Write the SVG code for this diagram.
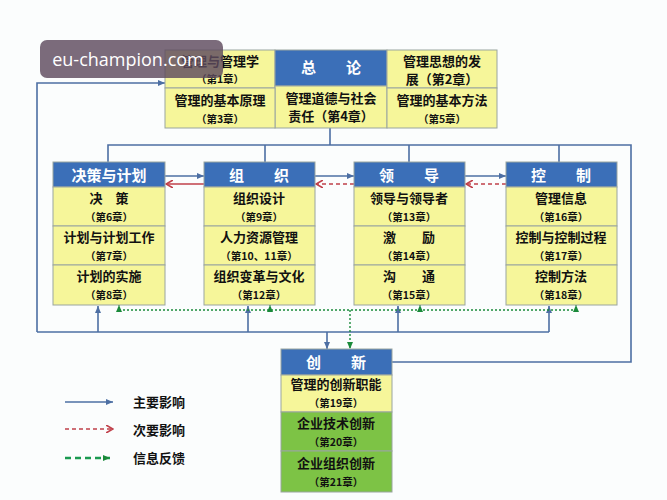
<svg xmlns="http://www.w3.org/2000/svg" width="667" height="500" viewBox="0 0 667 500">
<defs>
<style>
text{font-family:"Noto Sans CJK SC","Liberation Sans",sans-serif;text-anchor:middle;font-weight:bold}
.y{fill:#f6f69a;stroke:#9aa5a0;stroke-width:1}
.g{fill:#7dc345;stroke:#9aa5a0;stroke-width:1}
.h{fill:#3b6fb8;stroke:#9aa5a0;stroke-width:1}
.ht{fill:#fff;font-size:15px}
.t{fill:#111;font-size:13px}
.s{fill:#111;font-size:10.5px}
.b{stroke:#4d6fa3;stroke-width:1.6;fill:none}
.r{stroke:#c0404a;stroke-width:1.6;fill:none}
.rd{stroke:#c0404a;stroke-width:1.6;fill:none;stroke-dasharray:4 3}
.gd{stroke:#1a8a3a;stroke-width:1.4;fill:none;stroke-dasharray:2 2}
.lt{fill:#111;font-size:13px;text-anchor:start}
</style>
<marker id="ab" markerWidth="8" markerHeight="8" refX="7" refY="4" orient="auto" markerUnits="userSpaceOnUse"><path d="M0,1 L7,4 L0,7z" fill="#4d6fa3"/></marker>
<marker id="ar" markerWidth="8" markerHeight="8" refX="7" refY="4" orient="auto" markerUnits="userSpaceOnUse"><path d="M0,0 L7,4 L0,8" fill="none" stroke="#c0404a" stroke-width="1.6"/></marker>
<marker id="ag" markerWidth="8" markerHeight="8" refX="7" refY="4" orient="auto" markerUnits="userSpaceOnUse"><path d="M0,1 L7,4 L0,7z" fill="#1a8a3a"/></marker>
</defs>
<rect width="667" height="500" fill="#fbfdfd"/>
<g id="connectors">
<path class="b" d="M330,128 V145 M108,162 V145 H631 V362 H392 M265,145 V162 M409,145 V162 M559,145 V162"/>
<path class="b" d="M37,332 V83 H165" marker-end="url(#ab)"/>
<path class="b" d="M37,332 H549"/>
<path class="b" d="M98,332 V306" marker-end="url(#ab)"/>
<path class="b" d="M248,332 V306" marker-end="url(#ab)"/>
<path class="b" d="M398,332 V306" marker-end="url(#ab)"/>
<path class="b" d="M549,332 V306" marker-end="url(#ab)"/>
<path class="b" d="M327,332 V349" marker-end="url(#ab)"/>
<path class="gd" d="M119,310 H576"/>
<path class="gd" d="M119,310 V305" marker-end="url(#ag)"/>
<path class="gd" d="M270,310 V305" marker-end="url(#ag)"/>
<path class="gd" d="M420,310 V305" marker-end="url(#ag)"/>
<path class="gd" d="M576,310 V305" marker-end="url(#ag)"/>
<path class="gd" d="M350,310 V349" marker-end="url(#ag)"/>
<path class="b" d="M165,176 H204" marker-end="url(#ab)"/>
<path class="r" d="M204,184 H166" marker-end="url(#ar)"/>
<path class="b" d="M315,176 H354" marker-end="url(#ab)"/>
<path class="rd" d="M354,184 H316" marker-end="url(#ar)"/>
<path class="b" d="M465,176 H506" marker-end="url(#ab)"/>
<path class="rd" d="M506,184 H466" marker-end="url(#ar)"/>
</g>
<g id="top">
<rect class="y" x="165" y="50" width="110" height="38"/>
<rect class="h" x="275" y="50" width="112" height="36"/>
<rect class="y" x="275" y="86" width="112" height="42"/>
<rect class="y" x="387" y="50" width="110" height="38"/>
<rect class="y" x="165" y="88" width="110" height="40"/>
<rect class="y" x="387" y="88" width="110" height="40"/>
<text class="t" x="220" y="66">管理与管理学</text><text class="s" x="220" y="83">（第1章）</text>
<text class="ht" x="331" y="73">总　　论</text>
<text class="t" x="442" y="66">管理思想的发</text><text class="t" x="442" y="84">展（第2章）</text>
<text class="t" x="220" y="105">管理的基本原理</text><text class="s" x="220" y="123">（第3章）</text>
<text class="t" x="331" y="103">管理道德与社会</text><text class="t" x="331" y="121">责任（第4章）</text>
<text class="t" x="442" y="105">管理的基本方法</text><text class="s" x="442" y="123">（第5章）</text>
</g>
<g id="c1">
<rect class="h" x="53" y="162" width="112" height="25"/>
<rect class="y" x="53" y="187" width="112" height="39"/><rect class="y" x="53" y="226" width="112" height="39"/><rect class="y" x="53" y="265" width="112" height="40"/>
<text class="ht" x="109" y="181">决策与计划</text>
<text class="t" x="109" y="203">决　策</text><text class="s" x="109" y="221">（第6章）</text>
<text class="t" x="109" y="242">计划与计划工作</text><text class="s" x="109" y="260">（第7章）</text>
<text class="t" x="109" y="281">计划的实施</text><text class="s" x="109" y="299">（第8章）</text>
</g>
<g id="c2">
<rect class="h" x="204" y="162" width="111" height="25"/>
<rect class="y" x="204" y="187" width="111" height="39"/><rect class="y" x="204" y="226" width="111" height="39"/><rect class="y" x="204" y="265" width="111" height="40"/>
<text class="ht" x="259" y="181">组　　织</text>
<text class="t" x="259" y="203">组织设计</text><text class="s" x="259" y="221">（第9章）</text>
<text class="t" x="259" y="242">人力资源管理</text><text class="s" x="259" y="260">（第10、11章）</text>
<text class="t" x="259" y="281">组织变革与文化</text><text class="s" x="259" y="299">（第12章）</text>
</g>
<g id="c3">
<rect class="h" x="354" y="162" width="111" height="25"/>
<rect class="y" x="354" y="187" width="111" height="39"/><rect class="y" x="354" y="226" width="111" height="39"/><rect class="y" x="354" y="265" width="111" height="40"/>
<text class="ht" x="409" y="181">领　　导</text>
<text class="t" x="409" y="203">领导与领导者</text><text class="s" x="409" y="221">（第13章）</text>
<text class="t" x="409" y="242">激　　励</text><text class="s" x="409" y="260">（第14章）</text>
<text class="t" x="409" y="281">沟　　通</text><text class="s" x="409" y="299">（第15章）</text>
</g>
<g id="c4">
<rect class="h" x="506" y="162" width="111" height="25"/>
<rect class="y" x="506" y="187" width="111" height="39"/><rect class="y" x="506" y="226" width="111" height="39"/><rect class="y" x="506" y="265" width="111" height="40"/>
<text class="ht" x="561" y="181">控　　制</text>
<text class="t" x="561" y="203">管理信息</text><text class="s" x="561" y="221">（第16章）</text>
<text class="t" x="561" y="242">控制与控制过程</text><text class="s" x="561" y="260">（第17章）</text>
<text class="t" x="561" y="281">控制方法</text><text class="s" x="561" y="299">（第18章）</text>
</g>
<g id="c5">
<rect class="h" x="281" y="349" width="111" height="26"/>
<rect class="y" x="281" y="375" width="111" height="37"/><rect class="g" x="281" y="412" width="111" height="39"/><rect class="g" x="281" y="451" width="111" height="41"/>
<text class="ht" x="336" y="368">创　　新</text>
<text class="t" x="336" y="389">管理的创新职能</text><text class="s" x="336" y="407">（第19章）</text>
<text class="t" x="336" y="428">企业技术创新</text><text class="s" x="336" y="446">（第20章）</text>
<text class="t" x="336" y="468">企业组织创新</text><text class="s" x="336" y="486">（第21章）</text>
</g>
<g id="legend">
<path class="b" d="M65,402 H113" marker-end="url(#ab)"/>
<path class="rd" d="M65,429 H113" marker-end="url(#ar)"/>
<path stroke="#1a9a50" stroke-width="2.4" stroke-dasharray="6 4" d="M65,458 H110" marker-end="url(#ag)"/>
<text class="lt" x="133" y="407">主要影响</text>
<text class="lt" x="133" y="435">次要影响</text>
<text class="lt" x="133" y="463">信息反馈</text>
</g>
<g id="watermark">
<rect x="40" y="40" width="183" height="38" rx="7" fill="#5e4a5e" fill-opacity="0.82"/>
<text x="128" y="66" style="font-family:'Open Sans','DejaVu Sans',sans-serif;font-weight:normal;font-size:18px" fill="#fff">eu-champion.com</text>
</g>
</svg>
